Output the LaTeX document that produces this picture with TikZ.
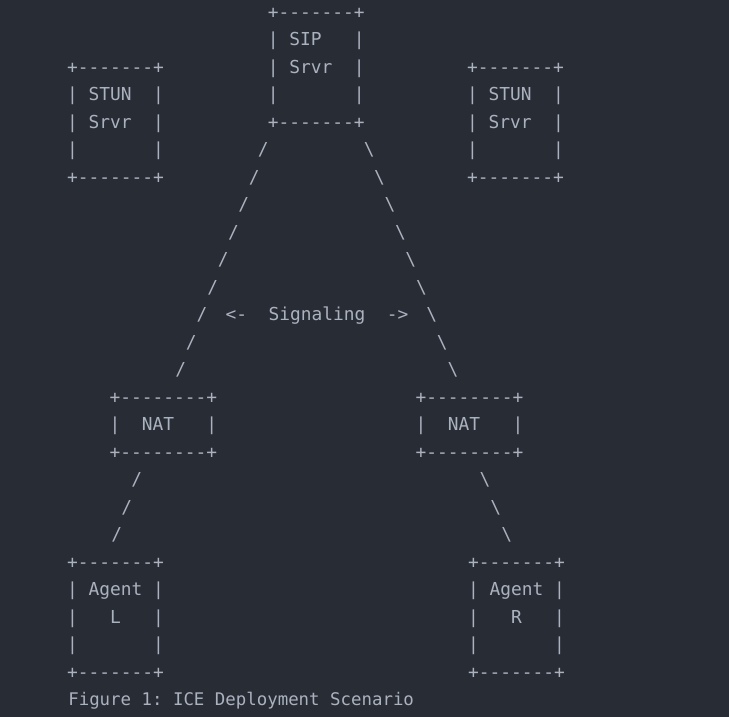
\documentclass[tikz,border=0pt]{standalone}
\usepackage{fontspec}
\setmonofont{DejaVu Sans Mono}
\definecolor{bgc}{HTML}{282C34}
\definecolor{fgc}{HTML}{ABB2BF}
\newcommand\arow[4]{\node[asc] (#1) at (#2,{18.2+27.5*#3}) {#4};}
\begin{document}
\begin{tikzpicture}[x=1pt,y=-1pt,
  asc/.style={inner sep=0pt, outer sep=0pt, anchor=base, text=fgc,
    font=\ttfamily\fontsize{17.86}{27.5}\selectfont}]
\fill[bgc] (0,0) rectangle (729,717);
\useasboundingbox (0,0) rectangle (729,717);
% SIP server
\arow{sipA}{316.2}{0}{+-------+}
\arow{sipB}{316.2}{1}{|~SIP~~~|}
\arow{sipC}{316.2}{2}{|~Srvr~~|}
\arow{sipD}{316.2}{3}{|~~~~~~~|}
\arow{sipE}{316.2}{4}{+-------+}
% STUN left
\arow{stlA}{115.5}{2}{+-------+}
\arow{stlB}{115.5}{3}{|~STUN~~|}
\arow{stlC}{115.5}{4}{|~Srvr~~|}
\arow{stlD}{115.5}{5}{|~~~~~~~|}
\arow{stlE}{115.5}{6}{+-------+}
% STUN right
\arow{strA}{515.5}{2}{+-------+}
\arow{strB}{515.5}{3}{|~STUN~~|}
\arow{strC}{515.5}{4}{|~Srvr~~|}
\arow{strD}{515.5}{5}{|~~~~~~~|}
\arow{strE}{515.5}{6}{+-------+}
% NAT left
\arow{natlA}{163.3}{14}{+--------+}
\arow{natlB}{163.3}{15}{|~~NAT~~~|}
\arow{natlC}{163.3}{16}{+--------+}
% NAT right
\arow{natrA}{469.5}{14}{+--------+}
\arow{natrB}{469.5}{15}{|~~NAT~~~|}
\arow{natrC}{469.5}{16}{+--------+}
% Agent L
\arow{aglA}{115.5}{20}{+-------+}
\arow{aglB}{115.5}{21}{|~Agent~|}
\arow{aglC}{115.5}{22}{|~~~L~~~|}
\arow{aglD}{115.5}{23}{|~~~~~~~|}
\arow{aglE}{115.5}{24}{+-------+}
% Agent R
\arow{agrA}{516.5}{20}{+-------+}
\arow{agrB}{516.5}{21}{|~Agent~|}
\arow{agrC}{516.5}{22}{|~~~R~~~|}
\arow{agrD}{516.5}{23}{|~~~~~~~|}
\arow{agrE}{516.5}{24}{+-------+}
% slashes
\foreach \x [count=\i from 5] in {263.3,254.3,243.8,233.5,223.3,212.8,202.0,191.2,180.7}
  {\node[asc] (ls\i) at (\x,{18.2+27.5*\i}) {/};}
\foreach \x [count=\i from 5] in {369.3,379.6,390.0,400.4,410.8,421.4,431.7,442.2,453.0}
  {\node[asc] (rs\i) at (\x,{18.2+27.5*\i}) {\textbackslash};}
\foreach \x [count=\i from 17] in {136.7,126.7,116.7}
  {\node[asc] (lb\i) at (\x,{18.2+27.5*\i}) {/};}
\foreach \x [count=\i from 17] in {485.0,495.7,506.7}
  {\node[asc] (rb\i) at (\x,{18.2+27.5*\i}) {\textbackslash};}
% signaling
\arow{sig}{317.0}{11}{<-~~Signaling~~->}
% caption
\node[asc, anchor=base west, font=\ttfamily\fontsize{17.4}{27.5}\selectfont] (cap) at (68.3,{18.2+27.5*25}) {Figure~1:~ICE~Deployment~Scenario};
\end{tikzpicture}
\end{document}
